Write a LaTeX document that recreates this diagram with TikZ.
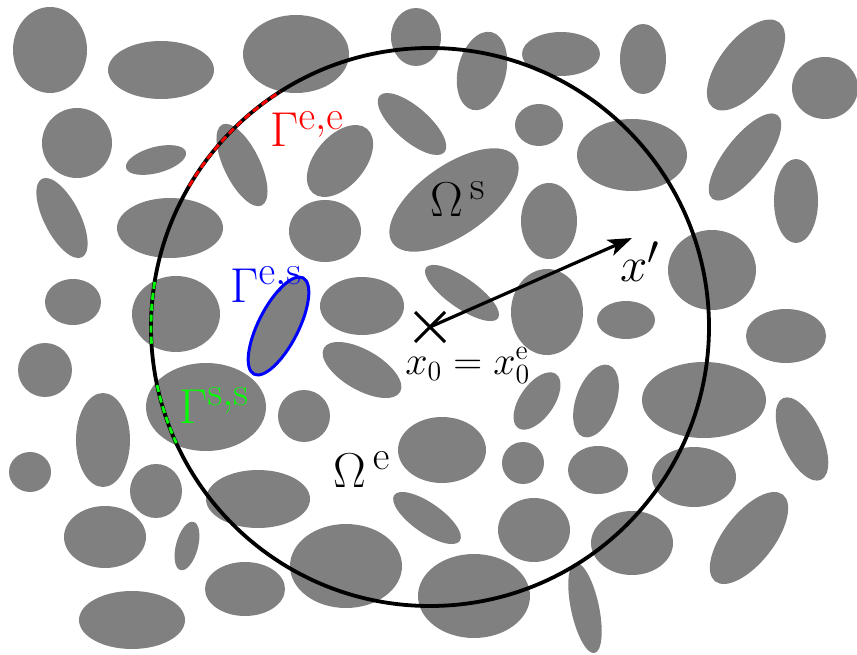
\documentclass[tikz,border=0pt]{standalone}
\usetikzlibrary{arrows.meta}
\definecolor{grain}{RGB}{128,128,128}
\definecolor{pureGreen}{RGB}{0,255,0}
\tikzset{
  grainfill/.style={fill=grain},
  bigcircle/.style={draw=black, line width=3.8pt},
  eedash/.style={draw=red, line width=2.8pt, dash pattern=on 7pt off 4pt},
  ssdash/.style={draw=pureGreen, line width=2.8pt, dash pattern=on 7pt off 4pt},
  esline/.style={draw=blue, line width=3pt},
  crossline/.style={draw=black, line width=3pt},
  vecarrow/.style={draw=black, line width=3.2pt, -{Stealth[length=24pt,width=17pt,inset=6pt]}},
  biglabel/.style={inner sep=0pt, anchor=base west, font=\Huge, scale=1.97},
  midlabel/.style={inner sep=0pt, anchor=base west, font=\huge, scale=1.93}
}
\begin{document}
\begin{tikzpicture}[x=1pt,y=1pt]
\useasboundingbox (0,0) rectangle (857,-655);
% grains
\foreach \cx/\cy/\a/\b/\t in {
 50/50/37/43/0, 161/70/53/29/0, 296/54/53/39/0, 77/143/35/35/0,
 156/160/31/13/15, 242/165/45/18/-64, 62/218/44/18/-63, 170/228/53/30/0,
 416/37/25/29/0, 482/71/40/24/76, 561/54/39/22/0, 412/124/43/17/-41,
 340/161/42/25/50, 539/125/24/21/0, 454/200/75/35/35, 325/231/36/31/0,
 549/221/28/38/0, 643/59/23/35/0, 746/65/54/26/52, 825/88/33/31/0,
 632/155/55/36/0, 745/157/53/20/52, 796/201/22/42/0, 73/302/28/23/0,
 176/314/44/38/0, 45/370/27/27/0, 206/407/60/44/0, 103/440/27/47/0,
 278.5/326/54/20/63, 304/416/26/26/0, 362/306/42/29/0, 462/293/44/15/-35,
 547/312/36/43/0, 362/370/44/20/-30, 442/450/44/33/0, 537/401/33/17/55,
 712/270/44/40/0, 626/320/29/19/0, 786/336/40/27/0, 596/401/38/20/70,
 704/400/62/38/0, 802/439/45/20/-65, 30/472/21/20/0, 156/491/26/27/0,
 105/537/41/31/0, 258/499/52/29/0, 187/546/25/11/75, 245/589/40/27/0,
 132/620/53/29/0, 523/463/21/21/0, 598/470/30/24/0, 427/518/40/15/-35,
 346/566/56/42/0, 474/596/56/42/0, 534/530/36/32/0, 585/608/46/14/-78,
 694/477/42/30/0, 632/543/41/32/0, 749/538/55/25/52}
 \fill[grainfill, rotate around={\t:(\cx,-\cy)}] (\cx,-\cy) ellipse ({\a} and {\b});
% blue interface
\draw[esline, rotate around={63:(278.5,-326)}] (278.5,-326) ellipse (54 and 20);
% big circle
\coordinate (c) at (430,-327);
\draw[bigcircle] (c) circle[radius=279];
\draw[eedash] (c) ++(149.7:279) arc[start angle=149.7, end angle=122.5, radius=279];
\draw[ssdash] (c) ++(170.7:279) arc[start angle=170.7, end angle=183.7, radius=279];
\draw[ssdash] (c) ++(192:279) arc[start angle=192, end angle=204.6, radius=279];
% cross and vector
\coordinate (x0) at (430,-327);
\coordinate (xp) at (632,-238);
\draw[crossline] (x0) ++(-15,15) -- ++(30,-30);
\draw[crossline] (x0) ++(-15,-15) -- ++(30,30);
\draw[vecarrow] (x0) -- (xp);
% labels
\node[biglabel, text=red] (Gee) at (270,-147) {$\Gamma^{\mathrm{e,e}}$};
\node[biglabel, text=blue] (Ges) at (230,-302) {$\Gamma^{\mathrm{e,s}}$};
\node[biglabel, text=pureGreen] (Gss) at (179,-423) {$\Gamma^{\mathrm{s,s}}$};
\node[biglabel] (Os) at (430,-217) {$\Omega^{\,\mathrm{s}}$};
\node[biglabel] (Oe) at (333,-487) {$\Omega^{\,\mathrm{e}}$};
\node[biglabel] (xlab) at (620,-282) {$x'$};
\node[midlabel] (x0lab) at (405,-374) {$x_0 = x_0^{\mathrm{e}}$};
\end{tikzpicture}
\end{document}
